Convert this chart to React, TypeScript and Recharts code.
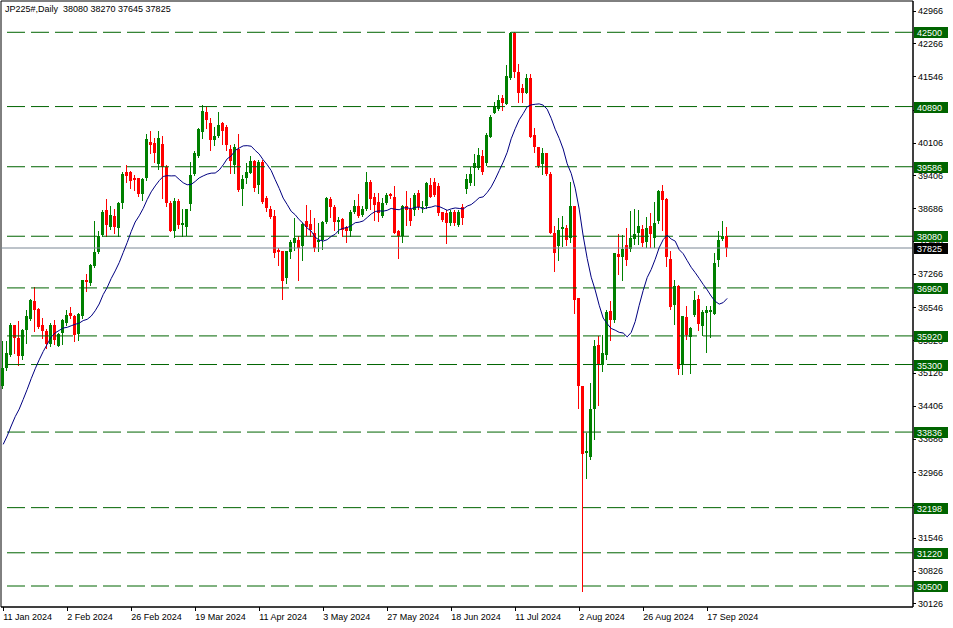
import React from 'react';
import { ComposedChart, Bar, Line, XAxis, YAxis, ReferenceLine, ReferenceArea } from 'recharts';

// daily candles, JP225# (Jan 11 .. Sep 24 2024)
const opens = [
  34830, 35230, 35515, 36165, 35875, 35495, 36055, 36285, 36685, 36505, 36165, 36020, 35755, 36165, 35710, 35985,
  36200, 36415, 36360, 35970, 36345, 37125, 37065, 37425, 37730, 38110, 38650, 38275, 38520, 38255, 38795, 39480,
  39465, 39335, 39335, 38990, 39335, 40130, 40095, 39640, 40070, 39590, 38810, 38200, 38845, 38315, 38290, 38780,
  39425, 39820, 40345, 40780, 40525, 40165, 40260, 40540, 40455, 39960, 39625, 39965, 39100, 39335, 39460, 39720,
  39190, 39695, 38905, 38665, 38520, 37785, 37750, 37175, 37730, 37930, 38005, 37860, 38400, 38350, 38145, 37965,
  37990, 38380, 38880, 38710, 38380, 38450, 38275, 38185, 38595, 38725, 38545, 38665, 39265, 38925, 38830, 38510,
  38795, 39000, 38940, 38185, 38075, 38725, 38665, 38640, 39010, 38700, 38725, 39195, 39250, 39170, 38595, 38580,
  38365, 38615, 38330, 38710, 39100, 39230, 39550, 39550, 39820, 39660, 40235, 40755, 40830, 41085, 40945, 41520,
  42490, 41640, 41295, 41190, 41520, 40275, 40005, 39645, 39890, 39430, 38160, 37860, 38235, 38255, 38040, 38725,
  36740, 34845, 33390, 33305, 34340, 35730, 35300, 35515, 36455, 36275, 37700, 37640, 37895, 37800, 38015, 38160,
  38235, 37965, 38305, 38040, 38400, 39050, 38880, 37585, 36595, 37010, 35300, 36330, 35900, 36380, 36720, 36145,
  36420, 36430, 36405, 37555, 38015, 38080,
];
const highs = [
  35805, 35805, 36200, 36165, 36235, 36070, 36490, 36720, 36980, 36525, 36310, 36070, 36200, 36275, 35985, 36285,
  36475, 36540, 36380, 36415, 37140, 37270, 37485, 38400, 38185, 38650, 38880, 38725, 38665, 38815, 39480, 39625,
  39495, 39410, 39350, 39335, 40290, 40360, 40215, 40360, 40260, 39625, 38845, 38905, 38890, 38675, 38675, 39695,
  39925, 40415, 40920, 40885, 40635, 40455, 40780, 40560, 40490, 40055, 40080, 40295, 39410, 39675, 39820, 39730,
  39730, 39730, 38955, 38740, 38650, 37820, 37770, 37770, 37990, 38470, 38075, 38365, 38760, 38650, 38470, 38365,
  38400, 38920, 38940, 38760, 38495, 38470, 38305, 38650, 38855, 39000, 38740, 39480, 39300, 39010, 39010, 38905,
  39010, 39010, 39170, 38205, 38760, 39050, 38905, 39025, 39085, 38850, 39265, 39335, 39340, 39230, 38615, 38650,
  38650, 38650, 38650, 38780, 39430, 39590, 39860, 39985, 39950, 40310, 40705, 40995, 41135, 41135, 41785, 42500,
  42500, 41820, 41390, 41590, 41605, 40415, 40020, 39985, 39890, 39480, 38305, 38470, 38520, 38325, 39265, 38740,
  36740, 34845, 33820, 34900, 35840, 35925, 35935, 36490, 36670, 37715, 38130, 38110, 38255, 38635, 38665, 38650,
  38325, 38505, 38580, 38830, 39085, 39190, 38905, 37750, 37125, 37030, 36345, 36560, 36115, 36885, 36815, 36490,
  36560, 36560, 37715, 38185, 38420, 38270,
];
const lows = [
  34795, 35190, 35480, 35550, 35300, 35410, 35770, 36275, 36020, 36095, 35875, 35660, 35710, 35735, 35695, 35735,
  36165, 36310, 35805, 35840, 36310, 36900, 37030, 37410, 37715, 38090, 38075, 38235, 38145, 38075, 38690, 39250,
  39135, 39085, 38960, 38870, 39300, 39875, 39695, 39540, 38905, 38725, 38185, 38055, 38255, 38095, 38110, 38650,
  39410, 39805, 40200, 40415, 39950, 40055, 40235, 40070, 39950, 39445, 39445, 39070, 38760, 39240, 39445, 39050,
  39010, 38810, 38635, 38470, 37640, 37460, 36720, 37065, 37605, 37785, 37125, 37570, 38110, 38090, 37750, 37750,
  37800, 38365, 38505, 38220, 38145, 38075, 37965, 38090, 38580, 38495, 38520, 38650, 38665, 38435, 38420, 38495,
  38780, 38905, 38150, 37605, 37965, 38330, 38330, 38545, 38680, 38600, 38690, 38925, 38950, 38545, 38420, 37930,
  38330, 38330, 38300, 38350, 39025, 39190, 39190, 39535, 39430, 39625, 40220, 40740, 40815, 40815, 40945, 41495,
  41540, 40995, 40995, 41175, 40220, 39910, 39590, 39430, 39410, 38145, 37320, 37570, 37860, 37895, 37965, 36415,
  34365, 30390, 32830, 33245, 33680, 34415, 35155, 35410, 35825, 36215, 37270, 37140, 37460, 37750, 37915, 37915,
  37875, 37845, 37845, 37845, 38375, 38220, 37425, 36505, 36185, 35105, 35105, 35855, 35120, 36345, 36045, 35930,
  35565, 35900, 36405, 37425, 38005, 37645,
];
const closes = [
  35230, 35550, 36165, 35875, 35495, 36055, 36345, 36705, 36490, 36115, 36020, 35755, 36165, 35840, 35970, 36275,
  36380, 36345, 35950, 36395, 37125, 37095, 37460, 37730, 38075, 38615, 38325, 38545, 38275, 38795, 39425, 39395,
  39280, 39300, 39000, 39320, 40180, 40055, 39875, 40215, 39590, 38795, 38200, 38845, 38325, 38365, 38675, 39410,
  39890, 40395, 40790, 40595, 40165, 40260, 40490, 40360, 40055, 39700, 40020, 39085, 39315, 39480, 39720, 39120,
  39695, 38830, 38685, 38495, 37715, 37730, 37100, 37750, 37965, 38040, 37820, 38350, 38290, 38205, 37820, 38005,
  38380, 38905, 38710, 38380, 38435, 38220, 38185, 38615, 38725, 38510, 38665, 39245, 38885, 38760, 38580, 38810,
  38975, 38955, 38160, 38090, 38740, 38650, 38415, 38975, 38710, 38720, 39230, 38940, 38980, 38580, 38435, 38365,
  38595, 38365, 38595, 38470, 39315, 39430, 39675, 39840, 39480, 40275, 40670, 40900, 41030, 40970, 41550, 42490,
  41640, 41190, 41190, 41520, 40235, 40020, 39600, 39890, 39420, 38160, 37715, 38220, 38290, 38005, 38740, 36705,
  34830, 33355, 33425, 34340, 35695, 35280, 35540, 36430, 36275, 37715, 37630, 37800, 37570, 38040, 38130, 38305,
  37930, 38255, 38130, 38375, 39070, 38865, 37630, 36545, 36995, 35205, 36345, 35950, 36095, 36690, 36185, 36430,
  36475, 36475, 37500, 38005, 38090, 37825,
];
// closes before the first visible bar, only feed the 14 bar average
const priorCloses = [33000, 33150, 33050, 33200, 33110, 33300, 33450, 33500, 33400, 33500, 33550, 34000, 34540];
const maPeriod = 14;

const tickIndex = [0, 16, 32, 48, 64, 80, 96, 112, 128, 144, 160, 176];
const tickLabels = [
  '11 Jan 2024', '2 Feb 2024', '26 Feb 2024', '19 Mar 2024', '11 Apr 2024', '3 May 2024',
  '27 May 2024', '18 Jun 2024', '11 Jul 2024', '2 Aug 2024', '26 Aug 2024', '17 Sep 2024',
];
const priceTicks = [
  42966, 42266, 41546, 40826, 40106, 39406, 38686, 37966, 37266, 36546,
  35826, 35126, 34406, 33686, 32966, 32246, 31546, 30826, 30126,
];
const levels = [42500, 40890, 39586, 38080, 36960, 35920, 35300, 33836, 32198, 31220, 30500];
const lastPrice = 37825;
const header = 'JP225#,Daily  38080 38270 37645 37825';

const priceDomain = [30045, 43178];
const indexDomain = [-0.55, 227.45];

const font = '"Liberation Sans", Arial, sans-serif';
const UP = '#008000';
const DOWN = '#ff0000';
const LEVEL = '#006400';

const allCloses = [...priorCloses, ...closes];
const data = closes.map((c, i) => {
  const end = i + priorCloses.length;
  const win = allCloses.slice(end - maPeriod + 1, end + 1);
  const ma = win.reduce((s, v) => s + v, 0) / win.length;
  return { i, o: opens[i], h: highs[i], l: lows[i], c, range: [lows[i], highs[i]], ma };
});

// plain price ticks first, then level tags, then the last price tag on top
const axisTicks = [...priceTicks, ...levels, lastPrice];

const Candle = (props: any) => {
  const { x, width, y, height, payload } = props;
  if (x == null || !payload) return null;
  const top = Math.min(y, y + height);
  const span = Math.abs(height);
  const { o, h, l, c } = payload;
  const toY = (v: number) => (h === l ? top : top + ((h - v) / (h - l)) * span);
  const cx = Math.floor(x + width / 2) + 0.5;
  const color = c >= o ? UP : DOWN;
  const yo = Math.round(toY(o));
  const yc = Math.round(toY(c));
  const bt = Math.min(yo, yc);
  const bh = Math.max(1, Math.abs(yo - yc));
  return (
    <g>
      <line x1={cx} x2={cx} y1={Math.round(top)} y2={Math.round(top + span) + 1} stroke={color} strokeWidth={1} />
      <rect x={cx - 1.5} y={bt} width={3} height={bh} fill={color} />
    </g>
  );
};

const XTick = (props: any) => {
  const { x, y, payload } = props;
  const k = tickIndex.indexOf(payload.value);
  return (
    <g>
      <line x1={Math.floor(x) + 0.5} x2={Math.floor(x) + 0.5} y1={y} y2={y + 4} stroke="#000" />
      <text x={x} y={y + 13} fontSize={9} fontFamily={font} fill="#000" textAnchor="start">
        {k >= 0 ? tickLabels[k] : ''}
      </text>
    </g>
  );
};

const YTick = (props: any) => {
  const { x, y, payload, index } = props;
  const isTag = index >= priceTicks.length;
  if (isTag) {
    const yy = Math.round(y);
    const bg = payload.value === lastPrice && index === axisTicks.length - 1 ? '#000' : LEVEL;
    return (
      <g>
        <rect x={x + 1} y={yy - 5} width={34} height={11} fill={bg} />
        <text x={x + 4} y={yy + 4} fontSize={9} fontFamily={font} fill="#fff">
          {payload.value}
        </text>
      </g>
    );
  }
  const yy = Math.round(y) + 0.5;
  return (
    <g>
      <line x1={x} x2={x + 3} y1={yy} y2={yy} stroke="#000" />
      <text x={x + 5} y={y + 3.5} fontSize={9} fontFamily={font} fill="#000" textAnchor="start">
        {payload.value}
      </text>
    </g>
  );
};

export default function App() {
  return (
    <div style={{ position: 'absolute', left: 0, top: 0, width: 953, height: 628, background: '#fff' }}>
      <ComposedChart width={953} height={628} data={data} margin={{ top: 1, right: 0, bottom: 0, left: 1 }}>
        <XAxis
          type="number"
          dataKey="i"
          domain={indexDomain}
          allowDataOverflow
          ticks={tickIndex}
          interval={0}
          tick={<XTick />}
          tickLine={false}
          tickSize={0}
          tickMargin={0}
          axisLine={{ stroke: '#000' }}
          height={21}
        />
        <YAxis
          orientation="right"
          domain={priceDomain}
          allowDataOverflow
          ticks={axisTicks}
          interval={0}
          tick={<YTick />}
          tickLine={false}
          tickSize={0}
          tickMargin={0}
          axisLine={{ stroke: '#000' }}
          width={40}
        />
        <ReferenceArea
          x1={indexDomain[0]}
          x2={indexDomain[1]}
          y1={priceDomain[0]}
          y2={priceDomain[1]}
          fill="none"
          stroke="#000"
          ifOverflow="visible"
        />
        {levels.map((lv) => (
          <ReferenceLine key={lv} y={lv} stroke={LEVEL} strokeDasharray="18 6" />
        ))}
        <ReferenceLine y={lastPrice} stroke="#7a8794" />
        <Bar dataKey="range" barSize={3} shape={(p: any) => <Candle {...p} />} isAnimationActive={false} />
        <Line
          type="linear"
          dataKey="ma"
          stroke="#000080"
          strokeWidth={1}
          dot={false}
          activeDot={false}
          isAnimationActive={false}
        />
      </ComposedChart>
      <div
        style={{
          position: 'absolute',
          left: 5,
          top: 4,
          fontFamily: font,
          fontSize: 9,
          color: '#000',
          whiteSpace: 'pre',
        }}
      >
        {header}
      </div>
    </div>
  );
}
